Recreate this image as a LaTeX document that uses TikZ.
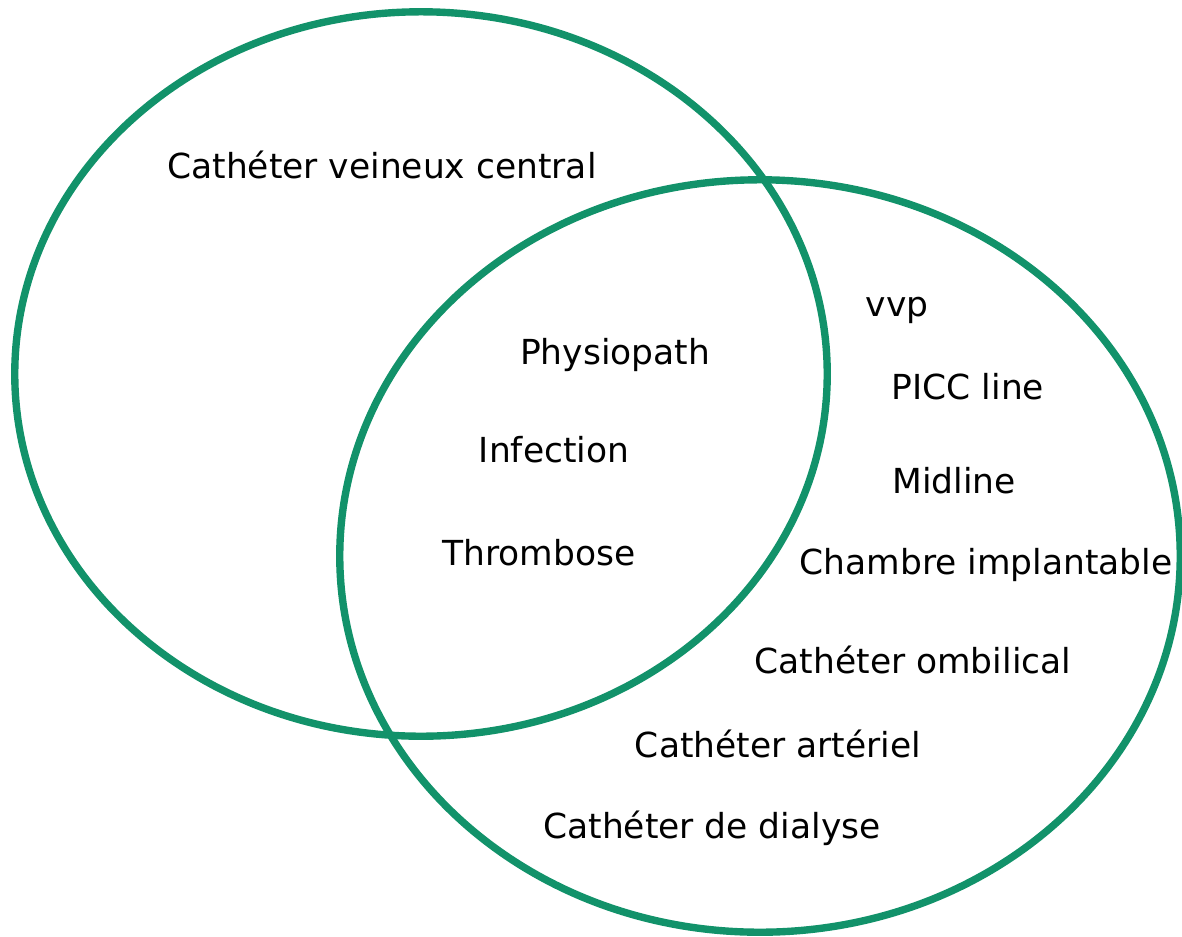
\documentclass[tikz,border=0pt]{standalone}
\usepackage{fontspec}
\setmainfont{DejaVu Sans}
\usepackage{tikz}
\usepackage{xcolor}
\definecolor{venngreen}{RGB}{18,146,106}

\begin{document}
\begin{tikzpicture}[x=0.01cm, y=-0.01cm,
        ring/.style={draw=venngreen, line width=2.1pt},
        lbl/.style={inner sep=0pt, font=\fontsize{9.8}{11}\selectfont}]
        \useasboundingbox (0,0) rectangle (1182,936);

        \draw[ring] (421,374) ellipse [x radius=4.06cm, y radius=3.62cm];
        \draw[ring] (760,556) ellipse [x radius=4.20cm, y radius=3.76cm];

        \node[lbl] (cvc) at (382,165) {Cathéter veineux central};

        \node[lbl] (physio) at (615,355) {Physiopath};
        \node[lbl] (infect) at (554,450) {Infection};
        \node[lbl] (thromb) at (539,553) {Thrombose};

        \node[lbl] (vvp) at (897,310) {vvp};
        \node[lbl] (picc) at (968,387) {PICC line};
        \node[lbl] (midline) at (954,481) {Midline};
        \node[lbl] (chambre) at (986,565) {Chambre implantable};
        \node[lbl] (ombil) at (913,660) {Cathéter ombilical};
        \node[lbl] (arter) at (778,744) {Cathéter artériel};
        \node[lbl] (dialyse) at (712,828) {Cathéter de dialyse};
    \end{tikzpicture}
\end{document}
